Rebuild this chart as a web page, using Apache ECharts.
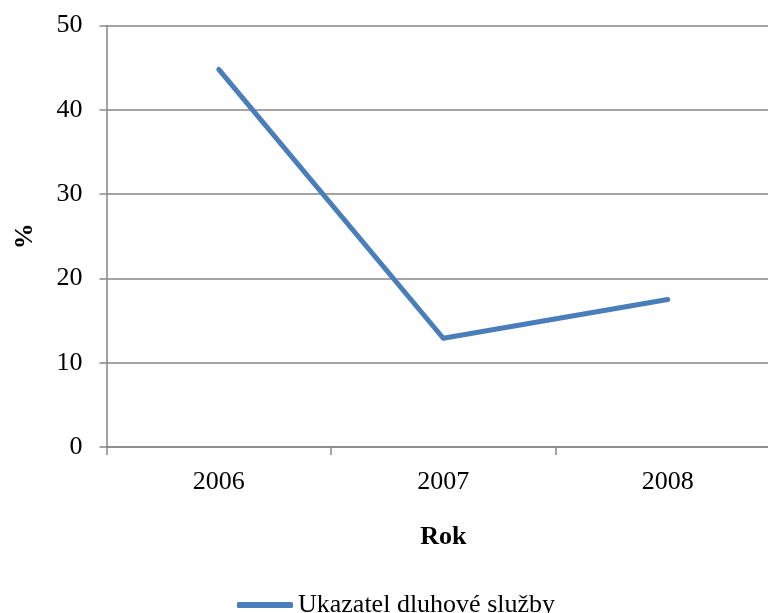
<!DOCTYPE html>
<html>
<head>
<meta charset="utf-8">
<script src="https://cdn.jsdelivr.net/npm/echarts@6/dist/echarts.min.js"></script>
<style>html,body{margin:0;padding:0;background:#fff;}#c{width:768px;height:613px;}</style>
</head>
<body>
<div id="c"></div>
<script>
const categories = ['2006', '2007', '2008'];
const seriesName = 'Ukazatel dluhové služby';
const values = [44.8, 12.9, 17.5];
const yTicks = [0, 50, 10];
const xName = 'Rok';
const yName = '%';

const font = 'Liberation Serif';
const chart = echarts.init(document.getElementById('c'), null, {renderer: 'canvas'});
chart.setOption({
  animation: false,
  grid: {left: 106.5, top: 25.5, width: 673.5, height: 421.5, containLabel: false, outerBoundsMode: 'none'},
  legend: {
    data: [{name: seriesName, icon: 'roundRect'}],
    left: 232, top: 587,
    itemWidth: 56, itemHeight: 6, itemGap: 10,
    textStyle: {fontFamily: font, fontSize: 26, color: '#000'}
  },
  xAxis: {
    type: 'category', data: categories, boundaryGap: true,
    name: xName, nameLocation: 'middle', nameGap: 77,
    nameTextStyle: {fontFamily: font, fontSize: 26, fontWeight: 'bold', color: '#000'},
    axisLine: {lineStyle: {color: '#868686', width: 1.5}},
    axisTick: {show: true, length: 8, lineStyle: {color: '#868686', width: 1.5}},
    axisLabel: {fontFamily: font, fontSize: 26, color: '#000', margin: 22}
  },
  yAxis: {
    type: 'value', min: yTicks[0], max: yTicks[1], interval: yTicks[2],
    name: yName, nameLocation: 'middle', nameGap: 68, nameRotate: 90,
    nameTextStyle: {fontFamily: font, fontSize: 26, fontWeight: 'bold', color: '#000'},
    axisLine: {show: true, lineStyle: {color: '#868686', width: 1.5}},
    axisTick: {show: true, length: 7, lineStyle: {color: '#868686', width: 1.5}},
    axisLabel: {fontFamily: font, fontSize: 26, color: '#000', margin: 24},
    splitLine: {show: true, lineStyle: {color: '#868686', width: 1.5}}
  },
  series: [{
    name: seriesName, type: 'line', data: values,
    symbol: 'none', showSymbol: false,
    lineStyle: {color: '#4a7ebb', width: 5, cap: 'round', join: 'round'},
    itemStyle: {color: '#4a7ebb'}
  }]
});
</script>
</body>
</html>
